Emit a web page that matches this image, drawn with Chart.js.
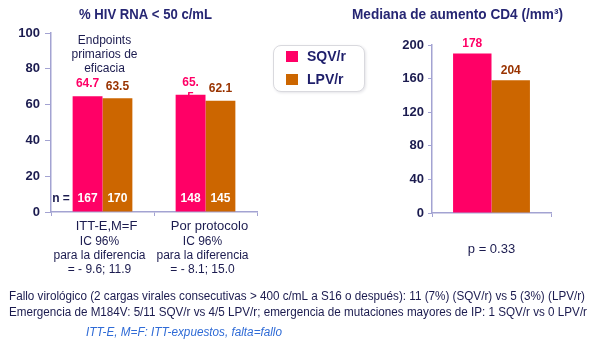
<!DOCTYPE html>
<html>
<head>
<meta charset="utf-8">
<script src="https://cdn.jsdelivr.net/npm/chart.js@4.4.1/dist/chart.umd.min.js"></script>
<style>
  body { margin: 0; background: #fff; width: 600px; height: 348px; overflow: hidden; position: relative; }
  canvas { position: absolute; left: 0; top: 0; }
  #legend {
    position: absolute; left: 273px; top: 45px; width: 90px; height: 45px;
    border: 1px solid #d9d9de; border-radius: 8px; box-shadow: 1px 1px 3px #e4e4e8; background: #fff;
  }
  #legend .sw { position: absolute; left: 12px; width: 12px; height: 11px; }
  #legend .lb { position: absolute; left: 33px; font: bold 14px "Liberation Sans", Arial, sans-serif; color: #1e1e6a; line-height: 16px; }
</style>
</head>
<body>
<canvas id="rnaChart" width="600" height="348"></canvas>
<canvas id="cd4Chart" width="600" height="348"></canvas>
<div id="legend"></div>
<script>
// series
const series = ['SQV/r', 'LPV/r'];
const barColors = ['#ff0066', '#cc6600'];
const valueColors = ['#ff0066', '#993300'];

// % HIV RNA < 50 c/mL
const rnaCategories = ['ITT-E,M=F', 'Por protocolo'];
const rnaSQV = [64.7, 65.5];
const rnaLPV = [63.5, 62.1];
const rnaSQVText = [['64.7'], ['65.', '5']];   // second label wraps in the original
const rnaLPVText = [['63.5'], ['62.1']];
const nSQV = [167, 148];
const nLPV = [170, 145];
const ciLines = [
    ['IC 96%', 'para la diferencia', '= - 9.6; 11.9'],
    ['IC 96%', 'para la diferencia', '= - 8.1; 15.0']
];
const rnaTicks = [0, 20, 40, 60, 80, 100];

// Mediana de aumento CD4
const cd4Categories = [''];
const cd4SQV = [190];
const cd4LPV = [158];
const cd4Text = ['178', '204'];
const cd4Ticks = [0, 40, 80, 120, 160, 200];

const FONT = '"Liberation Sans", Arial, sans-serif';
const navy = '#1b1b4f';
const titleNavy = '#262673';
const axisColor = '#a3a3d2';

Chart.defaults.font.family = FONT;
Chart.defaults.animation = false;

function fitText(ctx, text, x, y, width, align) {
    // squeeze text horizontally to the given width
    const w = ctx.measureText(text).width;
    const s = width / w;
    ctx.save();
    ctx.translate(x, y);
    ctx.scale(s, 1);
    ctx.textAlign = 'left';
    let dx = 0;
    if (align === 'center') dx = -w / 2;
    ctx.fillText(text, dx, 0);
    ctx.restore();
}

// legend built from the series
const legendEl = document.getElementById('legend');
series.forEach((name, i) => {
    const sw = document.createElement('div');
    sw.className = 'sw';
    sw.style.top = (5 + i * 23) + 'px';
    sw.style.background = barColors[i];
    const lb = document.createElement('div');
    lb.className = 'lb';
    lb.style.top = (2 + i * 23) + 'px';
    lb.textContent = name;
    legendEl.appendChild(sw);
    legendEl.appendChild(lb);
});

const rnaTextPlugin = {
    id: 'rnaText',
    beforeDatasetsDraw(chart) {
        const ctx = chart.ctx;
        ctx.save();
        ctx.font = 'bold 12px ' + FONT;
        ctx.textAlign = 'center';
        ctx.textBaseline = 'middle';
        [rnaSQVText, rnaLPVText].forEach((texts, di) => {
            const meta = chart.getDatasetMeta(di);
            ctx.fillStyle = valueColors[di];
            meta.data.forEach((bar, j) => {
                texts[j].forEach((line, k) => {
                    // wrapped lines fall behind the bar, as in the original
                    ctx.fillText(line, bar.x, bar.y - 12 + k * 15);
                });
            });
        });
        ctx.restore();
    },
    afterDatasetsDraw(chart) {
        const ctx = chart.ctx;
        const area = chart.chartArea;
        const xs = chart.scales.x;
        ctx.save();
        ctx.textBaseline = 'middle';
        ctx.textAlign = 'center';

        // title
        ctx.font = 'bold 14px ' + FONT;
        ctx.fillStyle = titleNavy;
        fitText(ctx, '% HIV RNA < 50 c/mL', 145.5, 15, 133, 'center');

        // n values
        ctx.font = 'bold 12px ' + FONT;
        ctx.fillStyle = navy;
        ctx.fillText('n =', area.left + 10, area.bottom - 13);
        ctx.fillStyle = '#fff';
        [nSQV, nLPV].forEach((vals, di) => {
            chart.getDatasetMeta(di).data.forEach((bar, j) => {
                ctx.fillText(String(vals[j]), bar.x, area.bottom - 13);
            });
        });

        // endpoint note
        ctx.font = '12px ' + FONT;
        ctx.fillStyle = navy;
        const c0 = xs.getPixelForValue(0);
        ['Endpoints', 'primarios de', 'eficacia'].forEach((t, k) => {
            ctx.fillText(t, c0 + 2, 41 + k * 14);
        });

        // category labels
        rnaCategories.forEach((cat, j) => {
            const cx = xs.getPixelForValue(j);
            ctx.font = '13px ' + FONT;
            ctx.fillText(cat, cx + 4, area.bottom + 14);
            ctx.font = '12px ' + FONT;
            ciLines[j].forEach((t, k) => {
                ctx.fillText(t, cx - 3, area.bottom + 30 + k * 14);
            });
        });

        // footnotes
        ctx.font = '12px ' + FONT;
        ctx.fillStyle = navy;
        fitText(ctx, 'Fallo virológico (2 cargas virales consecutivas > 400 c/mL a S16 o después): 11 (7%) (SQV/r) vs 5 (3%) (LPV/r)', 9, 297, 576, 'left');
        fitText(ctx, 'Emergencia de M184V: 5/11 SQV/r vs 4/5 LPV/r; emergencia de mutaciones mayores de IP: 1 SQV/r vs 0 LPV/r', 9, 313, 578, 'left');
        ctx.font = 'italic 12px ' + FONT;
        ctx.fillStyle = '#2f6bd6';
        fitText(ctx, 'ITT-E, M=F: ITT-expuestos, falta=fallo', 86, 333, 196, 'left');
        ctx.restore();
    }
};

const cd4TextPlugin = {
    id: 'cd4Text',
    afterDatasetsDraw(chart) {
        const ctx = chart.ctx;
        const area = chart.chartArea;
        ctx.save();
        ctx.textBaseline = 'middle';
        ctx.textAlign = 'center';
        ctx.font = 'bold 14px ' + FONT;
        ctx.fillStyle = titleNavy;
        fitText(ctx, 'Mediana de aumento CD4 (/mm³)', 457.5, 15, 211, 'center');

        ctx.font = 'bold 12px ' + FONT;
        [0, 1].forEach(di => {
            const bar = chart.getDatasetMeta(di).data[0];
            ctx.fillStyle = valueColors[di];
            ctx.fillText(cd4Text[di], bar.x, bar.y - 10);
        });

        ctx.font = '13px ' + FONT;
        ctx.fillStyle = navy;
        ctx.fillText('p = 0.33', (area.left + area.right) / 2, 249);
        ctx.restore();
    }
};

// Left chart: % HIV RNA < 50
const rnaChart = new Chart(document.getElementById('rnaChart'), {
    type: 'bar',
    data: {
        labels: rnaCategories,
        datasets: [
            { label: series[0], data: rnaSQV, backgroundColor: barColors[0], categoryPercentage: 0.58, barPercentage: 1 },
            { label: series[1], data: rnaLPV, backgroundColor: barColors[1], categoryPercentage: 0.58, barPercentage: 1 }
        ]
    },
    options: {
        responsive: false,
        layout: { padding: { left: 0, right: 343, top: 33, bottom: 132 } },
        plugins: { legend: { display: false }, tooltip: { enabled: false } },
        scales: {
            x: {
                afterFit: s => { s.height = 4; },
                grid: { offset: true, drawOnChartArea: false, tickLength: 4, color: axisColor },
                border: { color: axisColor, width: 1.5 },
                ticks: { display: false }
            },
            y: {
                min: 0,
                max: 100,
                afterFit: s => { s.width = 51; },
                grid: { drawOnChartArea: false, tickLength: 6, color: axisColor },
                border: { color: axisColor, width: 1.5 },
                ticks: {
                    stepSize: 10,
                    padding: 5,
                    color: navy,
                    font: { size: 13, weight: 'bold' },
                    callback: v => rnaTicks.includes(v) ? v : ''
                }
            }
        }
    },
    plugins: [rnaTextPlugin]
});

// Right chart: CD4
const cd4Chart = new Chart(document.getElementById('cd4Chart'), {
    type: 'bar',
    data: {
        labels: cd4Categories,
        datasets: [
            { label: series[0], data: cd4SQV, backgroundColor: barColors[0], categoryPercentage: 0.646, barPercentage: 1 },
            { label: series[1], data: cd4LPV, backgroundColor: barColors[1], categoryPercentage: 0.646, barPercentage: 1 }
        ]
    },
    options: {
        responsive: false,
        layout: { padding: { left: 0, right: 49, top: 45, bottom: 131 } },
        plugins: { legend: { display: false }, tooltip: { enabled: false } },
        scales: {
            x: {
                afterFit: s => { s.height = 4; },
                grid: { offset: true, drawOnChartArea: false, tickLength: 4, color: axisColor },
                border: { color: axisColor, width: 1.5 },
                ticks: { display: false }
            },
            y: {
                min: 0,
                max: 200,
                afterFit: s => { s.width = 432; },
                grid: { drawOnChartArea: false, tickLength: 4, color: axisColor },
                border: { color: axisColor, width: 1.5 },
                ticks: {
                    stepSize: 40,
                    padding: 4,
                    color: navy,
                    font: { size: 13, weight: 'bold' },
                    callback: v => cd4Ticks.includes(v) ? v : ''
                }
            }
        }
    },
    plugins: [cd4TextPlugin]
});
</script>
</body>
</html>
